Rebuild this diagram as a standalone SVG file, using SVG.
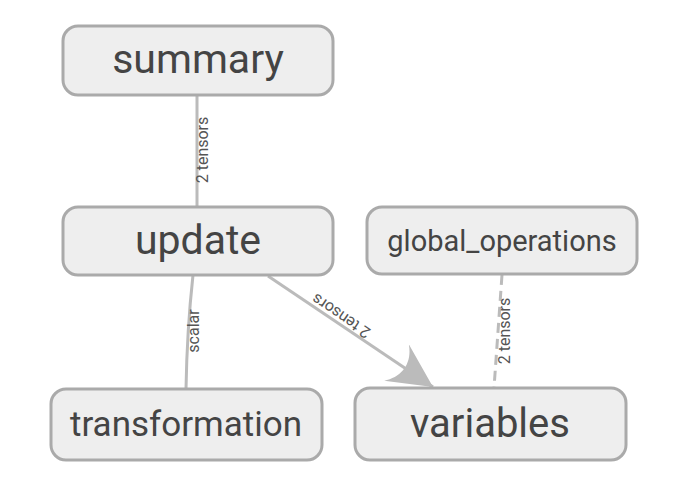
<svg xmlns="http://www.w3.org/2000/svg" width="675" height="480" viewBox="0 0 675 480">
<style>
.node rect{fill:#eeeeee;stroke:#aaaaaa;stroke-width:3}
.node text{font-family:Roboto,"Liberation Sans",sans-serif;fill:#444444;text-anchor:middle}
.edge{fill:none;stroke:#bbbbbb;stroke-width:3}
.dash{stroke-dasharray:10 6}
.elabel{font-family:Roboto,"Liberation Sans",sans-serif;font-size:16px;fill:#555555;text-anchor:middle;dominant-baseline:central}
</style>
<defs>
<marker id="arrow" markerUnits="userSpaceOnUse" viewBox="0 0 10 10" refX="10" refY="5" markerWidth="44" markerHeight="44" orient="auto">
<path d="M0,0 L10,5 L0,10 C3,7 3,3 0,0" fill="#bbbbbb"/>
</marker>
</defs>
<rect width="675" height="480" fill="#ffffff"/>
<g id="connectors">
<path class="edge" d="M197,95 L197,207"/>
<text class="elabel" transform="translate(202,150) rotate(-90)">2 tensors</text>
<path class="edge" d="M193,275 Q187,330 186,389"/>
<text class="elabel" transform="translate(193,331) rotate(-90)">scalar</text>
<path class="edge" d="M268,276 L433,387" marker-end="url(#arrow)"/>
<text class="elabel" transform="translate(341,316) rotate(214)">2 tensors</text>
<path class="edge dash" d="M502,275 L494,388"/>
<text class="elabel" transform="translate(504,331) rotate(-90)">2 tensors</text>
</g>
<g id="summary" class="node">
<rect x="63" y="26" width="270" height="69" rx="15"/>
<text x="198" y="73" font-size="41">summary</text>
</g>
<g id="update" class="node">
<rect x="63" y="207" width="270" height="68" rx="15"/>
<text x="198" y="254" font-size="41">update</text>
</g>
<g id="global_operations" class="node">
<rect x="367" y="207" width="270" height="67" rx="15"/>
<text x="502" y="251" font-size="29">global_operations</text>
</g>
<g id="transformation" class="node">
<rect x="51" y="389" width="271" height="71" rx="15"/>
<text x="186" y="436" font-size="35">transformation</text>
</g>
<g id="variables" class="node">
<rect x="355" y="388" width="271" height="72" rx="15"/>
<text x="490" y="437" font-size="40">variables</text>
</g>
</svg>
